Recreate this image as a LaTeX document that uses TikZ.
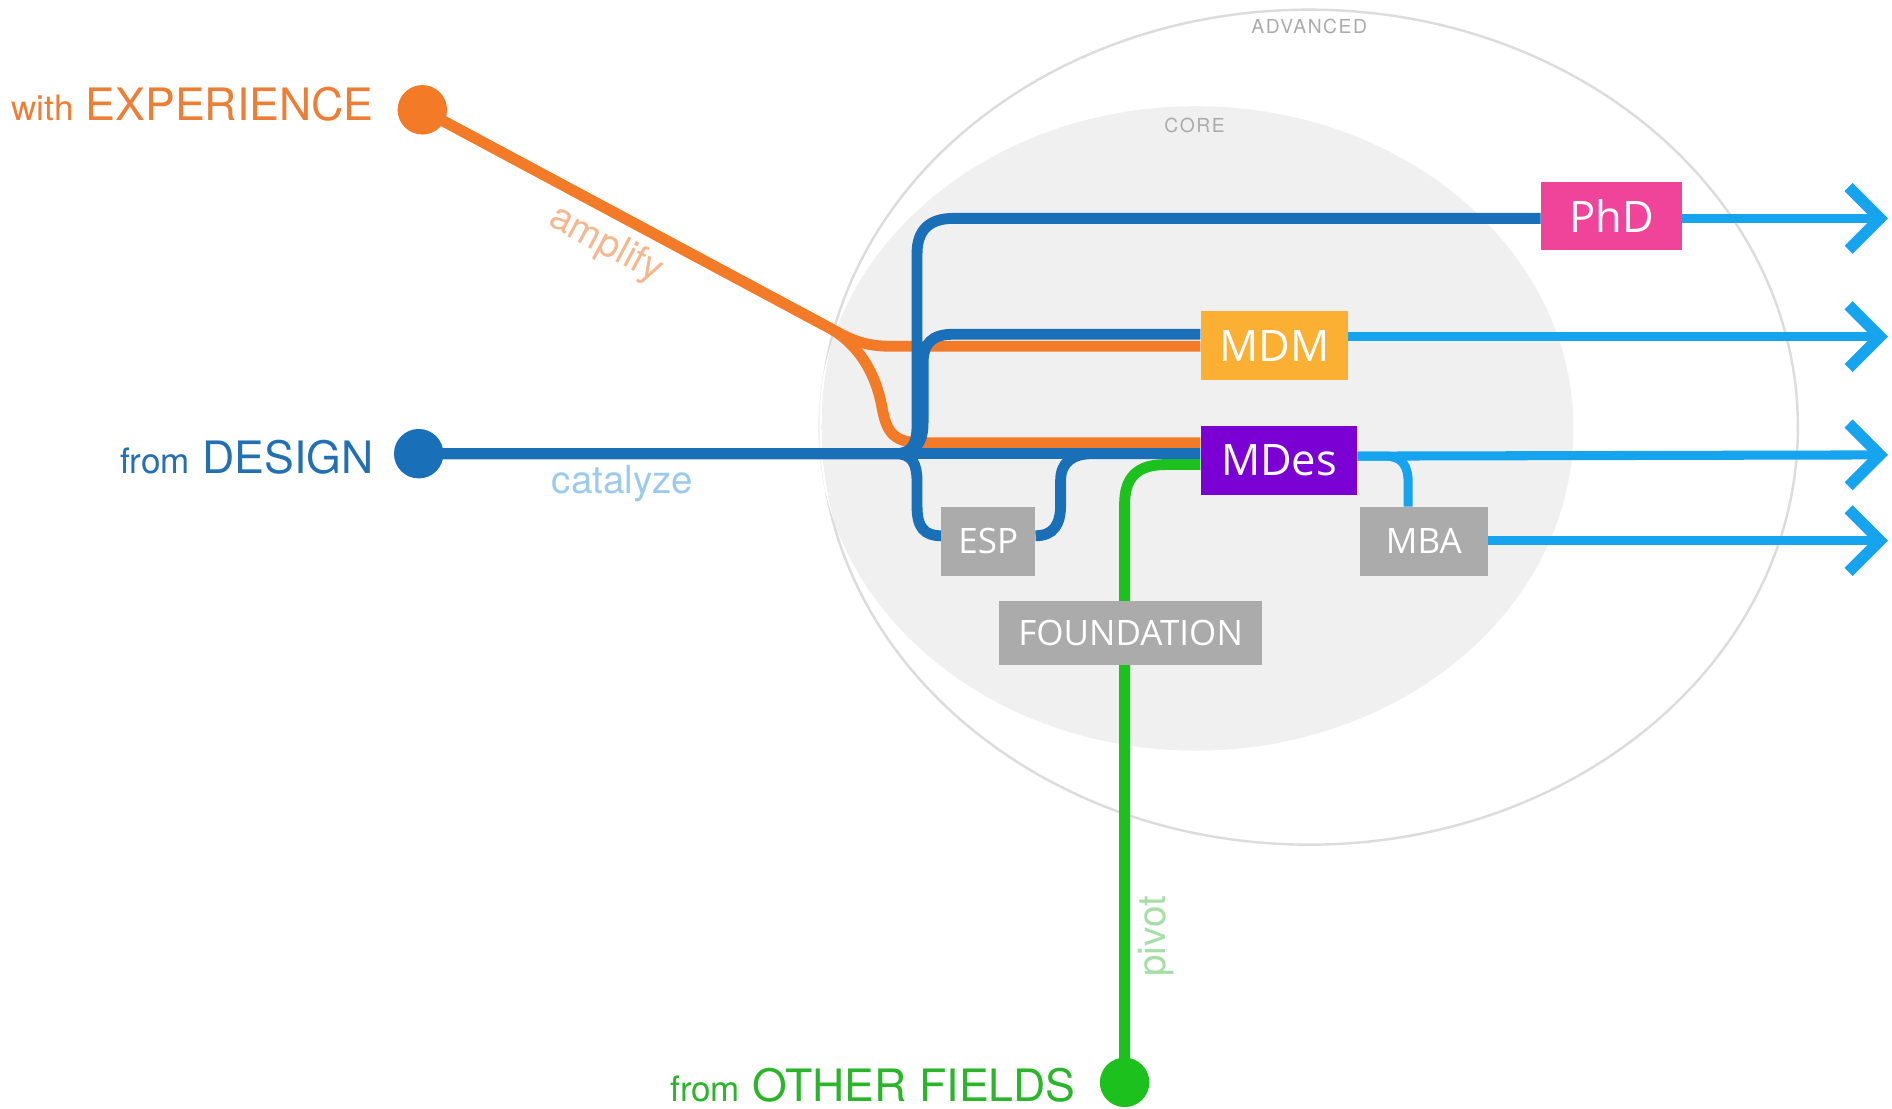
\documentclass[tikz,border=0pt]{standalone}
\usepackage{fontspec}
\setmainfont{TeX Gyre Heros}
\newfontfamily\boxfont{Open Sans}
\usetikzlibrary{calc}

\definecolor{cOrange}{HTML}{F37B28}
\definecolor{cBlue}{HTML}{1A70B8}
\definecolor{cLBlue}{HTML}{17A4EE}
\definecolor{cGreen}{HTML}{1DC11D}
\definecolor{cPink}{HTML}{F0449B}
\definecolor{cGold}{HTML}{FBB034}
\definecolor{cPurple}{HTML}{7B00D4}
\definecolor{cGray}{HTML}{ABABAB}
\definecolor{cCore}{HTML}{F0F0F0}
\definecolor{cRing}{HTML}{DCDCDC}
\definecolor{tOrange}{HTML}{EC7E36}
\definecolor{tBlue}{HTML}{226FB4}
\definecolor{tGreen}{HTML}{2AB52A}
\definecolor{tLOrange}{HTML}{F5B88E}
\definecolor{tLBlue}{HTML}{9CCAEC}
\definecolor{tLGreen}{HTML}{A6DFA6}
\definecolor{tRing}{HTML}{ABABAB}

\pgfdeclarelayer{ring}
\pgfdeclarelayer{lines}
\pgfsetlayers{ring,lines,main}

\begin{document}
\begin{tikzpicture}[x=1pt,y=-1pt,
  prog/.style={rectangle, inner sep=0pt, text=white,
    font=\boxfont\fontsize{36}{40}\selectfont, minimum height=57pt},
  minor/.style={prog, fill=cGray, font=\boxfont\fontsize{29}{32}\selectfont},
  dot/.style={circle, inner sep=0pt, minimum size=41pt},
  route/.style={line width=9pt},
  exitline/.style={line width=7.5pt, draw=cLBlue},
  chev/.style={line width=9.5pt, draw=cLBlue, line join=miter},
  source/.style={anchor=base east, font=\fontsize{37}{40}\selectfont},
  verb/.style={font=\fontsize{32}{34}\selectfont},
  zone/.style={text=tRing, font=\fontsize{16}{18}\selectfont\addfontfeature{LetterSpace=8}}
]
\useasboundingbox (0,0) rectangle (1568,919);

% zones: advanced ring and core area
\begin{pgfonlayer}{ring}
  \fill[white] (0,0) rectangle (1568,919);
  \fill[cCore] (991,355) ellipse [x radius=313pt, y radius=267pt];
  \draw[cRing, line width=2pt] (1085,354) ellipse [x radius=405pt, y radius=346pt];
  \begin{scope}
    \clip (991,355) ellipse [x radius=313pt, y radius=267pt];
    \draw[white, line width=2pt] (1085,354) ellipse [x radius=405pt, y radius=346pt];
  \end{scope}
\end{pgfonlayer}
\node[zone] (advanced) at (1085,22) {ADVANCED};
\node[zone] (core) at (990,104) {CORE};

% programmes
\node[prog, fill=cPink, minimum width=117pt] (phd) at (1335.5,179) {PhD};
\node[prog, fill=cGold, minimum width=122pt] (mdm) at (1056,286.5) {MDM};
\node[prog, fill=cPurple, minimum width=130pt] (mdes) at (1060,381.5) {MDes};
\node[minor, minimum width=78pt] (esp) at (819,448.5) {ESP};
\node[minor, minimum width=106pt] (mba) at (1180,448.5) {MBA};
\node[minor, minimum width=218pt, minimum height=53pt] (fdn) at (937,524.5) {FOUNDATION};

% entry points
\node[dot, fill=cOrange] (exp) at (350,91) {};
\node[dot, fill=cBlue] (des) at (347,376) {};
\node[dot, fill=cGreen] (oth) at (932,897) {};

\node[source, text=tOrange] (explabel) at (313,100)
  {{\fontsize{29}{30}\selectfont with} EXPERIENCE};
\node[source, text=tBlue] (deslabel) at (313,392)
  {{\fontsize{29}{30}\selectfont from} DESIGN};
\node[source, text=tGreen] (othlabel) at (895,913)
  {{\fontsize{29}{30}\selectfont from} OTHER FIELDS};

\node[verb, text=tLOrange, rotate=-28] (amplify) at (502,203) {amplify};
\node[verb, text=tLBlue] (catalyze) at (516,401) {catalyze};
\node[verb, text=tLGreen, rotate=90] (pivot) at (958,776) {pivot};

% exits
\coordinate (a1) at (1558,181);
\coordinate (a2) at (1558,279);
\coordinate (a3) at (1558,377);
\coordinate (a4) at (1558,448);

\begin{pgfonlayer}{lines}
  % experience
  \draw[route, cOrange] (exp.center) -- (686,271)
    .. controls (706,282) and (716,287) .. (740,287) -- (mdm.west |- 0,287);
  \draw[route, cOrange] (exp.center) -- (686,271)
    .. controls (712,285) and (726,310) .. (731,338)
    .. controls (735,360) and (742,367) .. (765,367) -- (mdes.west |- 0,367);
  % green route
  \draw[route, cGreen] (oth.center) -- (932,418)
    .. controls (932,396) and (942,385) .. (966,385) -- (mdes.west |- 0,385);
  % design
  \draw[route, cBlue] (des.center) -- (mdes.west |- 0,376);
  \draw[route, cBlue] (des.center) -- (742,376)
    .. controls (756,376) and (760,368) .. (760,352) -- (760,210)
    .. controls (760,191) and (770,181) .. (790,181) -- (phd.west |- 0,181);
  \draw[route, cBlue] (des.center) -- (742,376)
    .. controls (758,376) and (765,368) .. (765,350) -- (765,301)
    .. controls (765,285) and (772,277) .. (790,277) -- (mdm.west |- 0,277);
  \draw[route, cBlue] (des.center) -- (742,376)
    .. controls (756,376) and (760,384) .. (760,400) -- (760,420)
    .. controls (760,437) and (766,444) .. (esp.west |- 0,444);
  \draw[route, cBlue] (esp.east |- 0,444)
    .. controls (873,444) and (879,435) .. (879,418) -- (879,398)
    .. controls (879,384) and (888,376) .. (905,376) -- (mdes.west |- 0,376);
  % onward
  \draw[exitline] (phd.east |- 0,181) -- (a1);
  \draw[exitline] (mdm.east |- 0,279) -- (a2);
  \draw[exitline] (mdes.east |- 0,378) -- (a3);
  \draw[exitline] (mdes.east |- 0,378) -- (1148,378)
    .. controls (1162,378) and (1167,386) .. (1167,400) -- (mba.north -| 1167,0);
  \draw[exitline] (mba.east |- 0,448) -- (a4);
\end{pgfonlayer}

\foreach \a in {a1,a2,a3,a4}
  \draw[chev] ([shift={(-26,-26)}]\a) -- (\a) -- ([shift={(-26,26)}]\a);
\end{tikzpicture}
\end{document}
